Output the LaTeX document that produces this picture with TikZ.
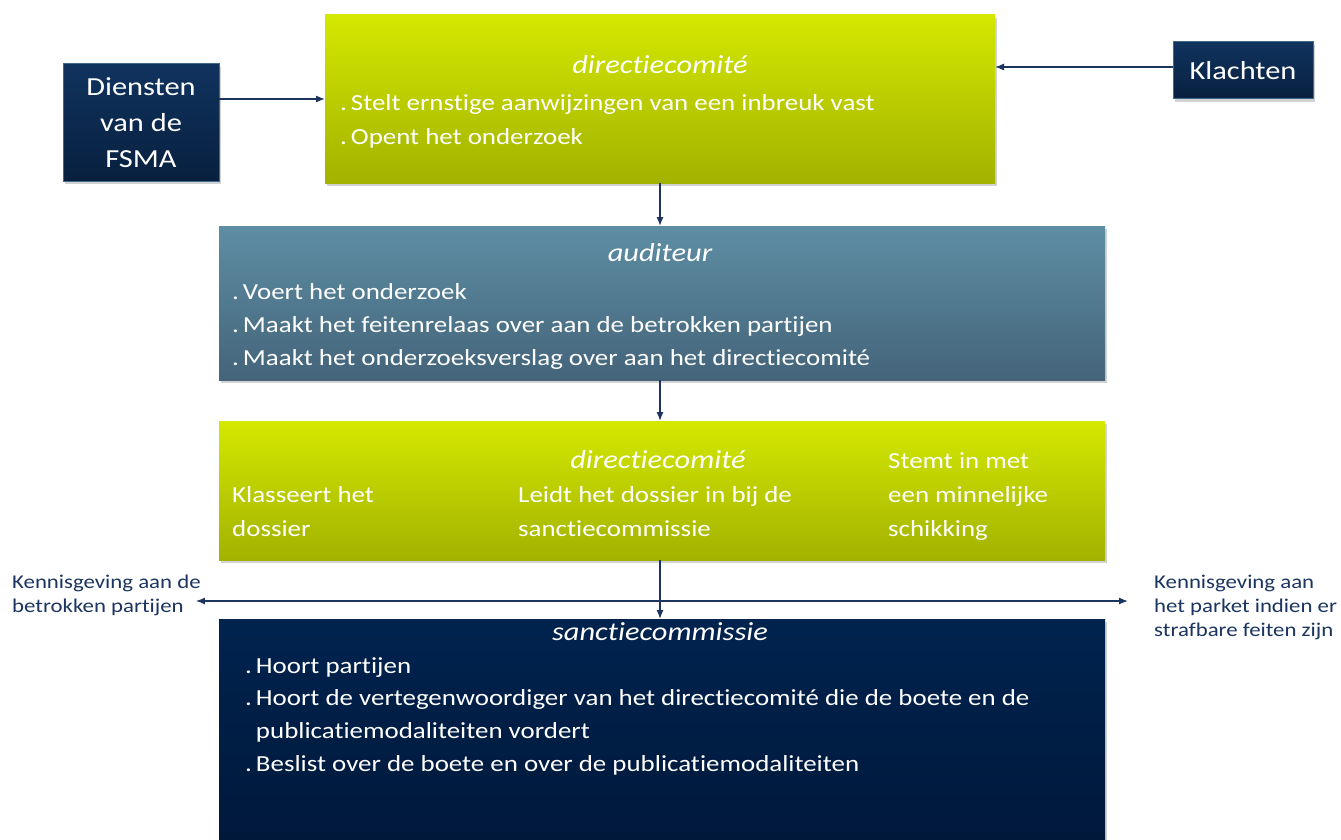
\documentclass[tikz,border=0pt]{standalone}
\usepackage{fontspec}
\setmainfont{Carlito}[FakeStretch=1.17, Ligatures=NoCommon]
\usetikzlibrary{positioning, shadows, arrows.meta}

\definecolor{limetop}{HTML}{D4E800}
\definecolor{limebot}{HTML}{A2B200}
\definecolor{steeltop}{HTML}{5E8EA4}
\definecolor{steelbot}{HTML}{44647A}
\definecolor{navytop}{HTML}{00234F}
\definecolor{navybot}{HTML}{00183A}
\definecolor{btntop}{HTML}{10335E}
\definecolor{btnbot}{HTML}{08203F}
\definecolor{linkblue}{HTML}{1B3560}

\newcommand{\bul}{.\hspace{4pt}}

\begin{document}
\begin{tikzpicture}[x=1pt, y=-1pt, >={Latex[length=9pt, width=7pt]}, font=\fontsize{23}{34}\selectfont,
    box/.style={anchor=north west, inner sep=0pt, outer sep=0pt,
      drop shadow={opacity=0.35, shadow xshift=2pt, shadow yshift=-3pt}},
    limebox/.style={box, top color=limetop, bottom color=limebot},
    btn/.style={box, anchor=center, top color=btntop, bottom color=btnbot,
      draw=steeltop!60!btntop, line width=1pt, text=white, align=center,
      font=\fontsize{26}{36}\selectfont},
    head/.style={text=white, font=\fontsize{26}{34}\selectfont\itshape},
    items/.style={text=white, align=left, anchor=north west, inner sep=0pt},
    note/.style={text=linkblue, align=left, inner sep=0pt, font=\fontsize{19.5}{24}\selectfont},
    conn/.style={draw=linkblue, line width=1.3pt}]
  \useasboundingbox[fill=white] (0,0) rectangle (1341,840);

  % step 1: opening of the file
  \node[limebox, minimum width=670pt, minimum height=168pt] (dc1) at (325,15) {};
  \node[head] (dc1t) at (660,65) {directiecomité};
  \node[items] (dc1i) at (340,94) {\bul Stelt ernstige aanwijzingen van een inbreuk vast\\\bul Opent het onderzoek};

  \node[btn, minimum width=156pt, minimum height=117pt] (fsma) at (141,122.5) {Diensten\\van de\\FSMA};
  \node[btn, minimum width=140pt, minimum height=57pt] (klacht) at (1243,70.5) {Klachten};

  % step 2: investigation
  \node[box, top color=steeltop, bottom color=steelbot, minimum width=886pt, minimum height=154pt] (aud) at (219,226) {};
  \node[head] (audt) at (660,253) {auditeur};
  \node[items, font=\fontsize{23}{33}\selectfont] (audi) at (232,283) {\bul Voert het onderzoek\\\bul Maakt het feitenrelaas over aan de betrokken partijen\\\bul Maakt het onderzoeksverslag over aan het directiecomité};

  % step 3: decision
  \node[limebox, minimum width=886pt, minimum height=139pt] (dc2) at (219,421) {};
  \node[head] (dc2t) at (658,460) {directiecomité};
  \node[items] (dc2a) at (232,486) {Klasseert het\\dossier};
  \node[items] (dc2b) at (518,486) {Leidt het dossier in bij de\\sanctiecommissie};
  \node[items] (dc2c) at (888,452) {Stemt in met\\een minnelijke\\schikking};

  % step 4: sanction committee
  \node[box, top color=navytop, bottom color=navybot, minimum width=886pt, minimum height=230pt] (sanc) at (219,619) {};
  \node[head] (sanct) at (660,632) {sanctiecommissie};
  \node[items, font=\fontsize{23}{32.7}\selectfont] (sanci) at (245,657) {\bul Hoort partijen\\\bul Hoort de vertegenwoordiger van het directiecomité die de boete en de\\\phantom{\bul}publicatiemodaliteiten vordert\\\bul Beslist over de boete en over de publicatiemodaliteiten};

  \node[note, anchor=north west] (kleft) at (12,575) {Kennisgeving aan de\\betrokken partijen};
  \node[note, anchor=north west] (kright) at (1154,575) {Kennisgeving aan\\het parket indien er\\strafbare feiten zijn};

  \coordinate (split) at (660,601);

  \draw[conn, ->] (fsma.east |- dc1.west) -- (dc1.west);
  \draw[conn, ->] (klacht.west |- 0,67) -- (dc1.east |- 0,67);
  \draw[conn, ->] (dc1.south) -- (dc1.south |- aud.north);
  \draw[conn, ->] (dc1.south |- aud.south) -- (dc1.south |- dc2.north);
  \draw[conn, ->] (dc1.south |- dc2.south) -- (dc1.south |- sanc.north);
  \draw[conn, <->] ([xshift=-5pt]kleft.east |- split) -- ([xshift=-26pt]kright.west |- split);
\end{tikzpicture}
\end{document}
